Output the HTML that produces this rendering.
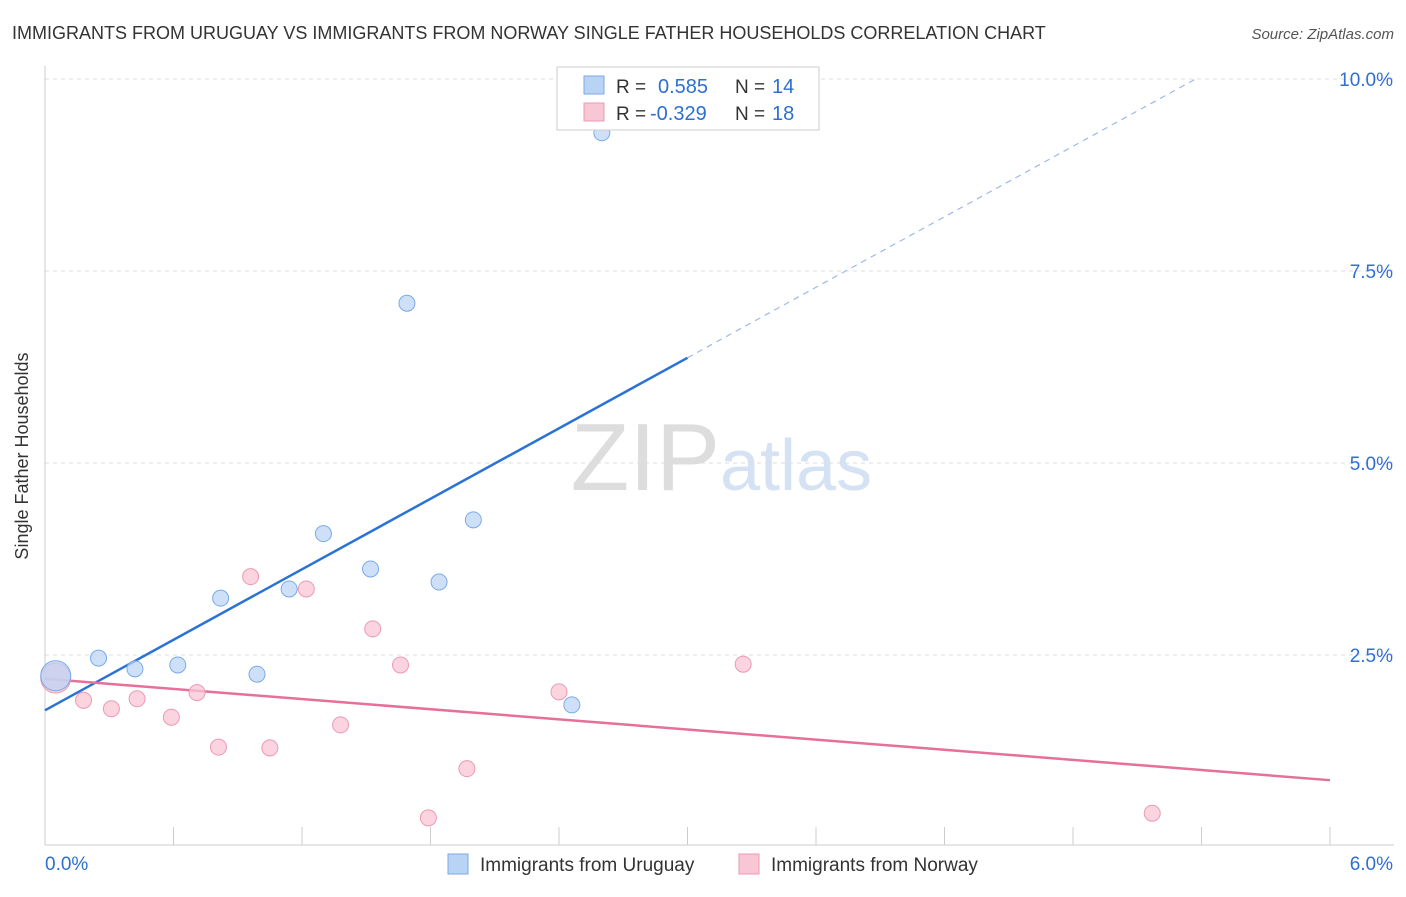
<!DOCTYPE html>
<html><head><meta charset="utf-8"><style>
body{margin:0;background:#fff;font-family:"Liberation Sans",sans-serif}
svg text{font-family:"Liberation Sans",sans-serif}
</style></head><body>
<svg id="c" width="1406" height="892">
<text x="12" y="39" font-size="18" fill="#333">IMMIGRANTS FROM URUGUAY VS IMMIGRANTS FROM NORWAY SINGLE FATHER HOUSEHOLDS CORRELATION CHART</text>
<text x="1394" y="39" font-size="15" fill="#555" text-anchor="end" font-style="italic">Source: ZipAtlas.com</text>
<text x="28" y="456" font-size="18" fill="#333" text-anchor="middle" transform="rotate(-90 28 456)">Single Father Households</text>
<text x="720" y="490" font-size="96" fill="#ddd" text-anchor="end" font-family="Liberation Serif">ZIP</text>
<text x="720" y="490" font-size="72" fill="#d4e2f4">atlas</text>
<g id="grid"></g><g id="axes"></g><g id="lines"></g><g id="pts"></g>
<g>
<rect x="557" y="67" width="262" height="63" fill="#fff" stroke="#ccc"/>
<rect x="584" y="76" width="20" height="18" fill="#b9d3f5" stroke="#7aaae6"/>
<text x="616" y="93" font-size="19" fill="#333">R = </text><text x="658" y="93" font-size="20" fill="#2e6fd0">0.585</text>
<text x="735" y="93" font-size="19" fill="#333">N = </text><text x="772" y="93" font-size="20" fill="#2e6fd0">14</text>
<rect x="584" y="103" width="20" height="18" fill="#f9c6d5" stroke="#ec9ab3"/>
<text x="616" y="120" font-size="19" fill="#333">R = </text><text x="650" y="120" font-size="20" fill="#2e6fd0">-0.329</text>
<text x="735" y="120" font-size="19" fill="#333">N = </text><text x="772" y="120" font-size="20" fill="#2e6fd0">18</text>
</g>
<g>
<rect x="448" y="854" width="20" height="20" fill="#b9d3f5" stroke="#7aaae6"/>
<text x="480" y="871" font-size="19" fill="#333">Immigrants from Uruguay</text>
<rect x="739" y="854" width="20" height="20" fill="#f9c6d5" stroke="#ec9ab3"/>
<text x="771" y="871" font-size="19" fill="#333">Immigrants from Norway</text>
</g>
</svg>
<script>
const yTicks=[2.5,5.0,7.5,10.0];
const uruguayX=[0.05,0.25,0.42,0.62,0.82,0.99,1.14,1.30,1.52,1.69,1.84,2.00,2.46,2.60];
const uruguayY=[2.23,2.46,2.32,2.37,3.24,2.25,3.36,4.08,3.62,7.08,3.45,4.26,1.85,9.30];
const norwayX=[0.05,0.18,0.31,0.43,0.59,0.71,0.81,0.96,1.05,1.22,1.38,1.53,1.66,1.79,1.97,2.40,3.26,5.17];
const norwayY=[2.20,1.91,1.80,1.93,1.69,2.01,1.30,3.52,1.29,3.36,1.59,2.84,2.37,0.38,1.02,2.02,2.38,0.44];
const uruguayTrend=[1.78,1.53];
const norwayTrend=[2.19,-0.22];
const NS="http://www.w3.org/2000/svg";
const X=v=>45+v*1285/6, Y=v=>847-v*76.8;
function mk(p,t,a){const e=document.createElementNS(NS,t);for(const k in a)e.setAttribute(k,a[k]);document.getElementById(p).appendChild(e);return e;}
yTicks.forEach(t=>{
 const g=mk('grid','line',{x1:45,x2:1394,y1:Y(t),y2:Y(t),stroke:'#ddd','stroke-dasharray':'4,4'});
 
 
 const l=mk('grid','text',{x:1393,y:Y(t)+7,'font-size':19,fill:'#2e6fd0','text-anchor':'end'});l.textContent=t.toFixed(1)+'%';
 
 
});
const ax=mk('axes','line',{x1:45,x2:1394,y1:845,y2:845,stroke:'#ccc'});


const ay=mk('axes','line',{x1:45,x2:45,y1:66,y2:845,stroke:'#ccc'});


for(let i=0;i<=10;i++){const t=mk('axes','line',{x1:X(i*0.6),x2:X(i*0.6),y1:827,y2:845,stroke:'#ccc'});
 
 }
[['0.0%',45,'start'],['6.0%',1393,'end']].forEach(a=>{const t=mk('axes','text',{x:a[1],y:870,'font-size':19,fill:'#2e6fd0','text-anchor':a[2]});t.textContent=a[0];
 
 });
const bl=mk('lines','line',{x1:X(0),y1:Y(uruguayTrend[0]),x2:X(3),y2:Y(uruguayTrend[0]+3*uruguayTrend[1]),stroke:'#2a72d6','stroke-width':2.5});


const xe=(10-uruguayTrend[0])/uruguayTrend[1];
const bd=mk('lines','line',{x1:X(3),y1:Y(uruguayTrend[0]+3*uruguayTrend[1]),x2:X(xe),y2:Y(10),stroke:'#9bbbe6','stroke-width':1.2,'stroke-dasharray':'6,5'});


const pl=mk('lines','line',{x1:X(0),y1:Y(norwayTrend[0]),x2:X(6),y2:Y(norwayTrend[0]+6*norwayTrend[1]),stroke:'#e5709a','stroke-width':2.5});


norwayX.forEach((x,i)=>{const c=mk('pts','circle',{cx:X(x),cy:Y(norwayY[i]),r:i==0?15:8,fill:'#f9c6d5','fill-opacity':0.75,stroke:'#ec9ab3'});
 
 });
uruguayX.forEach((x,i)=>{const c=mk('pts','circle',{cx:X(x),cy:Y(uruguayY[i]),r:i==0?15:8,fill:'#b9d3f5','fill-opacity':0.7,stroke:'#7aaae6'});
 
 });
</script>
</body></html>
